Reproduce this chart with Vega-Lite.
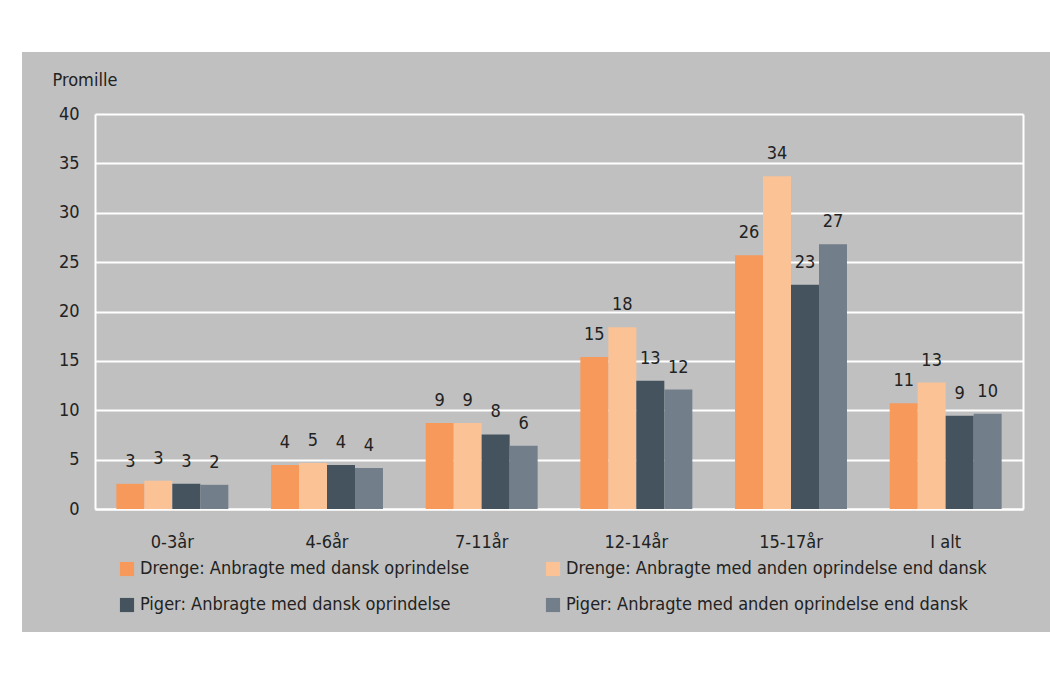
{
  "$schema": "https://vega.github.io/schema/vega-lite/v6.json",
  "width": 1028,
  "height": 580,
  "autosize": {"type": "none"},
  "padding": {"left": 22, "top": 52, "right": 0, "bottom": 43},
  "background": "white",
  "view": {"fill": "#c0c0c0", "stroke": null},
  "config": {
    "font": "DejaVu Sans Condensed, sans-serif",
    "axis": {"labelFont": "DejaVu Sans Condensed, sans-serif", "labelFontSize": 18, "labelColor": "#222222"},
    "legend": {"labelFont": "DejaVu Sans Condensed, sans-serif"}
  },
  "data": {
    "values": [
      {"group": "0-3år", "series": "Drenge: Anbragte med dansk oprindelse", "value": 2.55},
      {"group": "0-3år", "series": "Drenge: Anbragte med anden oprindelse end dansk", "value": 2.85},
      {"group": "0-3år", "series": "Piger: Anbragte med dansk oprindelse", "value": 2.55},
      {"group": "0-3år", "series": "Piger: Anbragte med anden oprindelse end dansk", "value": 2.45},
      {"group": "4-6år", "series": "Drenge: Anbragte med dansk oprindelse", "value": 4.45},
      {"group": "4-6år", "series": "Drenge: Anbragte med anden oprindelse end dansk", "value": 4.65},
      {"group": "4-6år", "series": "Piger: Anbragte med dansk oprindelse", "value": 4.45},
      {"group": "4-6år", "series": "Piger: Anbragte med anden oprindelse end dansk", "value": 4.15},
      {"group": "7-11år", "series": "Drenge: Anbragte med dansk oprindelse", "value": 8.7},
      {"group": "7-11år", "series": "Drenge: Anbragte med anden oprindelse end dansk", "value": 8.7},
      {"group": "7-11år", "series": "Piger: Anbragte med dansk oprindelse", "value": 7.55},
      {"group": "7-11år", "series": "Piger: Anbragte med anden oprindelse end dansk", "value": 6.4},
      {"group": "12-14år", "series": "Drenge: Anbragte med dansk oprindelse", "value": 15.4},
      {"group": "12-14år", "series": "Drenge: Anbragte med anden oprindelse end dansk", "value": 18.4},
      {"group": "12-14år", "series": "Piger: Anbragte med dansk oprindelse", "value": 13.0},
      {"group": "12-14år", "series": "Piger: Anbragte med anden oprindelse end dansk", "value": 12.1},
      {"group": "15-17år", "series": "Drenge: Anbragte med dansk oprindelse", "value": 25.7},
      {"group": "15-17år", "series": "Drenge: Anbragte med anden oprindelse end dansk", "value": 33.7},
      {"group": "15-17år", "series": "Piger: Anbragte med dansk oprindelse", "value": 22.7},
      {"group": "15-17år", "series": "Piger: Anbragte med anden oprindelse end dansk", "value": 26.8},
      {"group": "I alt", "series": "Drenge: Anbragte med dansk oprindelse", "value": 10.7},
      {"group": "I alt", "series": "Drenge: Anbragte med anden oprindelse end dansk", "value": 12.8},
      {"group": "I alt", "series": "Piger: Anbragte med dansk oprindelse", "value": 9.45},
      {"group": "I alt", "series": "Piger: Anbragte med anden oprindelse end dansk", "value": 9.65}
    ]
  },
  "encoding": {
    "x": {
      "field": "group", "type": "nominal",
      "sort": ["0-3år", "4-6år", "7-11år", "12-14år", "15-17år", "I alt"],
      "scale": {"range": [73, 1001], "paddingInner": 0.276, "paddingOuter": 0.138},
      "axis": {"title": null, "orient": "bottom", "offset": -123, "labelAngle": 0, "ticks": false, "domain": true, "domainColor": "white", "domainWidth": 2, "labelPadding": 24, "grid": false}
    },
    "xOffset": {
      "field": "series", "type": "nominal",
      "sort": ["Drenge: Anbragte med dansk oprindelse", "Drenge: Anbragte med anden oprindelse end dansk", "Piger: Anbragte med dansk oprindelse", "Piger: Anbragte med anden oprindelse end dansk"]
    },
    "y": {
      "field": "value", "type": "quantitative",
      "scale": {"domain": [0, 40], "range": [457, 62], "nice": false}
    }
  },
  "layer": [
    {
      "mark": {"type": "bar"},
      "encoding": {
        "y": {
          "field": "value", "type": "quantitative",
          "scale": {"domain": [0, 40], "range": [457, 62], "nice": false},
          "axis": {"title": "Promille", "orient": "left", "offset": -73, "values": [0, 5, 10, 15, 20, 25, 30, 35, 40], "grid": true, "gridColor": "white", "gridWidth": 2, "gridOpacity": 1, "domain": true, "domainColor": "white", "domainWidth": 2, "ticks": false, "labelPadding": 16, "titleAngle": 0, "titleAlign": "left", "titleBaseline": "middle", "titleX": -43, "titleY": 28, "titleFontSize": 18, "titleFontWeight": "normal", "titleColor": "#222222", "titleFont": "DejaVu Sans Condensed, sans-serif"}
        },
        "color": {
          "field": "series", "type": "nominal",
          "sort": ["Drenge: Anbragte med dansk oprindelse", "Piger: Anbragte med dansk oprindelse", "Drenge: Anbragte med anden oprindelse end dansk", "Piger: Anbragte med anden oprindelse end dansk"],
          "scale": {"range": ["#F7995A", "#44535E", "#FBC295", "#727E8A"]},
          "legend": {"title": null, "orient": "none", "legendX": 96, "legendY": 508, "columns": 2, "columnPadding": 74, "rowPadding": 18, "symbolType": "square", "symbolSize": 200, "symbolStrokeWidth": 0, "labelFontSize": 18, "labelColor": "#222222", "labelLimit": 500, "symbolOpacity": 1}
        }
      }
    },
    {
      "mark": {"type": "text", "baseline": "alphabetic", "dy": -17, "fontSize": 18, "color": "#222222", "font": "DejaVu Sans Condensed, sans-serif"},
      "encoding": {
        "text": {"field": "value", "type": "quantitative", "format": ".0f"},
        "y": {
          "field": "value", "type": "quantitative",
          "scale": {"domain": [0, 40], "range": [457, 62], "nice": false},
          "axis": {"title": null, "orient": "right", "offset": -27, "labels": false, "ticks": false, "grid": false, "domain": true, "domainColor": "white", "domainWidth": 2}
        }
      }
    }
  ],
  "resolve": {"axis": {"y": "independent"}}
}
